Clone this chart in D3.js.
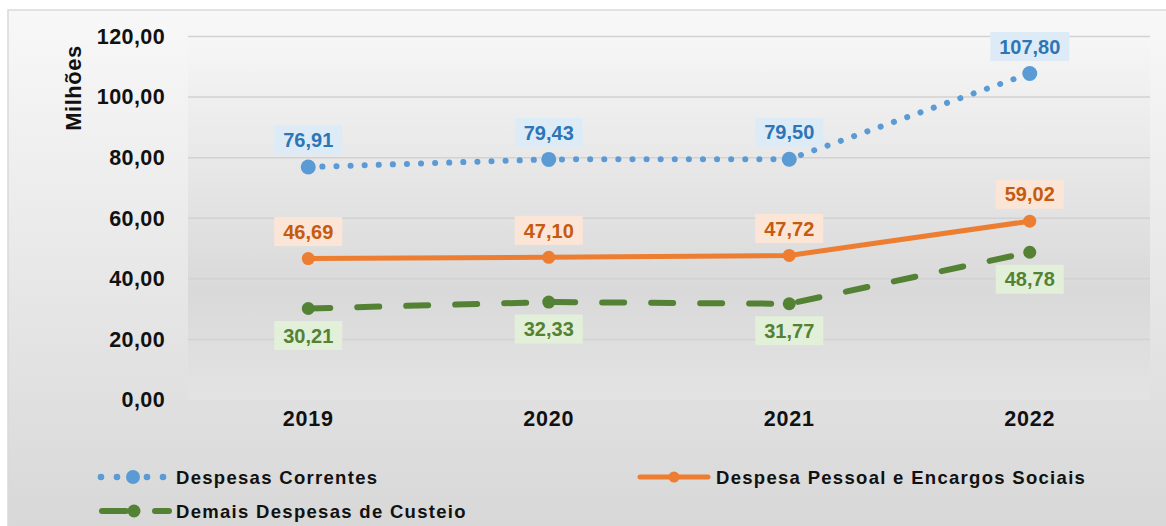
<!DOCTYPE html>
<html>
<head>
<meta charset="utf-8">
<script src="https://cdn.jsdelivr.net/npm/d3@7"></script>
<style>
  body { margin: 0; background: #fff; }
  svg { display: block; font-family: "Liberation Sans", Arial, sans-serif; }
</style>
</head>
<body>
<svg id="chart" width="1166" height="526"></svg>
<script>
const years = ["2019", "2020", "2021", "2022"];
const correntes = [76.91, 79.43, 79.50, 107.80];
const pessoal = [46.69, 47.10, 47.72, 59.02];
const custeio = [30.21, 32.33, 31.77, 48.78];
const yTicks = [0, 20, 40, 60, 80, 100, 120];

const series = [
    { name: "Despesas Correntes", values: correntes, color: "#5b9bd5", text: "#2e75b6", fill: "#ddebf7", dash: "0.1 14", width: 6, r: 7.5, pos: "above" },
    { name: "Despesa Pessoal e Encargos Sociais", values: pessoal, color: "#ed7d31", text: "#c55a11", fill: "#fbe5d6", dash: null, width: 5, r: 6.5, pos: "above" },
    { name: "Demais Despesas de Custeio", values: custeio, color: "#548235", text: "#548235", fill: "#e2f0d9", dash: "22 27", width: 6, r: 6.5, pos: "below" }
];

const fmt = v => v.toFixed(2).replace(".", ",");

const svg = d3.select("#chart");
const defs = svg.append("defs");

const bg = defs.append("linearGradient").attr("id", "bg").attr("x1", 0).attr("y1", 0).attr("x2", 0).attr("y2", 1);
bg.append("stop").attr("offset", "0%").attr("stop-color", "#f8f8f8");
bg.append("stop").attr("offset", "100%").attr("stop-color", "#d7d7d7");

const pg = defs.append("linearGradient").attr("id", "pg").attr("x1", 0).attr("y1", 0).attr("x2", 0).attr("y2", 1);
pg.append("stop").attr("offset", "0%").attr("stop-color", "#f6f6f6");
pg.append("stop").attr("offset", "70%").attr("stop-color", "#d9d9d9");
pg.append("stop").attr("offset", "100%").attr("stop-color", "#e3e3e3");

svg.append("rect")
    .attr("x", 8).attr("y", 10).attr("width", 1170).attr("height", 530)
    .attr("fill", "url(#bg)").attr("stroke", "#d9d9d9").attr("stroke-width", 1.5);

const plot = { left: 188, right: 1150, top: 36.5, bottom: 400 };

const x = d3.scaleBand().domain(years).range([plot.left, plot.right]);
const y = d3.scaleLinear().domain([0, 120]).range([plot.bottom, plot.top]);

svg.append("rect")
    .attr("x", plot.left).attr("y", plot.top)
    .attr("width", plot.right - plot.left).attr("height", plot.bottom - plot.top)
    .attr("fill", "url(#pg)");

// grid
svg.append("g")
    .selectAll("line")
    .data(yTicks.filter(d => d > 0))
    .enter().append("line")
    .attr("x1", plot.left).attr("x2", plot.right)
    .attr("y1", d => y(d)).attr("y2", d => y(d))
    .attr("stroke", "#d2d2d2").attr("stroke-width", 1.5);

// y axis
const yAxis = svg.append("g")
    .attr("transform", `translate(${plot.left},0)`)
    .call(d3.axisLeft(y).tickValues(yTicks).tickFormat(fmt).tickSize(0).tickPadding(23));
yAxis.select(".domain").remove();
yAxis.selectAll("text")
    .attr("font-size", 21.5).attr("font-weight", "bold").attr("fill", "#111")
    .attr("letter-spacing", 0.4)
    .attr("font-family", "Liberation Sans, Arial, sans-serif");

// x axis
const xAxis = svg.append("g")
    .attr("transform", `translate(0,${plot.bottom})`)
    .call(d3.axisBottom(x).tickSize(0).tickPadding(11));
xAxis.select(".domain").remove();
xAxis.selectAll("text")
    .attr("font-size", 21.5).attr("font-weight", "bold").attr("fill", "#111")
    .attr("letter-spacing", 0.8)
    .attr("font-family", "Liberation Sans, Arial, sans-serif");

svg.append("text")
    .attr("transform", "translate(81,88) rotate(-90)")
    .attr("text-anchor", "middle")
    .attr("font-size", 22).attr("font-weight", "bold").attr("fill", "#111")
    .attr("letter-spacing", 0.5)
    .text("Milhões");

const cx = d => x(d) + x.bandwidth() / 2;
const line = d3.line().x((d, i) => cx(years[i])).y(d => y(d));

series.forEach(s => {
    const g = svg.append("g");
    g.append("path")
        .datum(s.values)
        .attr("d", line)
        .attr("fill", "none")
        .attr("stroke", s.color)
        .attr("stroke-width", s.width)
        .attr("stroke-linecap", "round")
        .attr("stroke-dasharray", s.dash);
    g.selectAll("circle")
        .data(s.values)
        .enter().append("circle")
        .attr("cx", (d, i) => cx(years[i]))
        .attr("cy", d => y(d))
        .attr("r", s.r)
        .attr("fill", s.color);
});

// data labels
series.forEach(s => {
    const g = svg.append("g");
    s.values.forEach((v, i) => {
        const px = cx(years[i]);
        const py = y(v) + (s.pos === "above" ? -27 : 27);
        const label = fmt(v);
        const w = label.length * 11 + 13;
        g.append("rect")
            .attr("x", px - w / 2).attr("y", py - 14.5)
            .attr("width", w).attr("height", 29)
            .attr("fill", s.fill);
        g.append("text")
            .attr("x", px).attr("y", py)
            .attr("dy", "0.36em")
            .attr("text-anchor", "middle")
            .attr("font-size", 20).attr("font-weight", "bold")
            .attr("fill", s.text)
            .text(label);
    });
});

// legend
const legendItems = [
    { s: series[0], x: 100, y: 477 },
    { s: series[1], x: 640, y: 477 },
    { s: series[2], x: 100, y: 511 }
];
legendItems.forEach(item => {
    const s = item.s;
    const g = svg.append("g").attr("transform", `translate(${item.x},${item.y})`);
    if (s.dash === null) {
        g.append("line").attr("x1", 0).attr("x2", 68).attr("y1", 0).attr("y2", 0)
            .attr("stroke", s.color).attr("stroke-width", s.width).attr("stroke-linecap", "round");
        g.append("circle").attr("cx", 34).attr("cy", 0).attr("r", 5.5).attr("fill", s.color);
    } else if (s.pos === "above") {
        g.selectAll(".dot").data([1, 17, 33, 47, 63]).enter().append("circle")
            .attr("cx", d => d).attr("cy", 0).attr("r", d => d === 33 ? 7 : 3.3).attr("fill", s.color);
    } else {
        g.append("line").attr("x1", 2).attr("x2", 26).attr("y1", 0).attr("y2", 0)
            .attr("stroke", s.color).attr("stroke-width", s.width).attr("stroke-linecap", "round");
        g.append("line").attr("x1", 55).attr("x2", 69).attr("y1", 0).attr("y2", 0)
            .attr("stroke", s.color).attr("stroke-width", s.width).attr("stroke-linecap", "round");
        g.append("circle").attr("cx", 34).attr("cy", 0).attr("r", 6.5).attr("fill", s.color);
    }
    g.append("text")
        .attr("x", s.dash === null ? 76 : 76).attr("y", 0).attr("dy", "0.36em")
        .attr("font-size", 18.5).attr("font-weight", "bold").attr("fill", "#111")
        .attr("letter-spacing", 1.3)
        .text(s.name);
});
</script>
</body>
</html>
